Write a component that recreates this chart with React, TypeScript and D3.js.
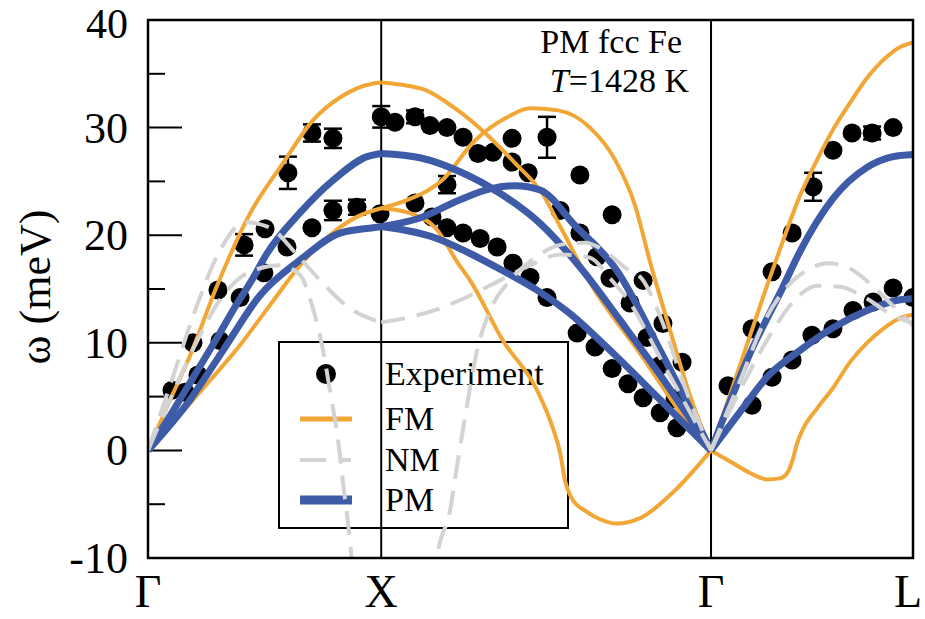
import React from "react";
import * as d3 from "d3";

// High-symmetry path Γ–X–Γ–L (path length in units of 2π/a)
const symPos = [0, 1, 1 + Math.SQRT2, 1 + Math.SQRT2 + Math.sqrt(3) / 2];
const symLabels = ["Γ", "X", "Γ", "L"];
const yMajor = [-10, 0, 10, 20, 30, 40];
const yMinor = [-5, 5, 15, 25, 35];

// ---- FM (orange) ----
const fmGXL = [[0, 0], [0.094, 4.65], [0.18, 8.8], [0.296, 15.3], [0.437, 22.0], [0.579, 26.7], [0.708, 30.7], [0.823, 32.8], [0.965, 34.1], [1.0, 34.2]];
const fmGXT = [[0, 0], [0.137, 3.3], [0.266, 6.5], [0.395, 9.8], [0.523, 13.5], [0.652, 17.2], [0.78, 20.0], [0.896, 21.7], [1.0, 22.5]];
const fmXGL = [[1.0, 34.2], [1.081, 34.0], [1.188, 33.5], [1.316, 31.8], [1.445, 29.5], [1.574, 26.7], [1.69, 23.9], [1.775, 20.5], [1.895, 15.6], [2.11, 9.0], [2.324, 2.3], [2.414, 0]];
const fmXGT1 = [[1.0, 22.5], [1.115, 23.3], [1.261, 25.1], [1.402, 28.8], [1.544, 31.0], [1.638, 31.8], [1.758, 31.6], [1.895, 30.0], [2.003, 27.0], [2.088, 22.8], [2.153, 17.5], [2.238, 11.2], [2.324, 5.1], [2.414, 0]];
const fmXGT2 = [[1.0, 22.5], [1.115, 22.1], [1.239, 20.5], [1.329, 17.4], [1.381, 15.8], [1.522, 10.2], [1.668, 5.6], [1.737, 2.0], [1.767, -0.2], [1.788, -2.8], [1.818, -4.5], [1.874, -5.6], [1.938, -6.4], [2.007, -6.8], [2.11, -6.3], [2.251, -3.9], [2.367, -1.2], [2.414, 0]];
const fmGLL = [[2.414, 0], [2.56, 9.3], [2.654, 15.3], [2.723, 19.5], [2.796, 23.7], [2.869, 27.0], [2.937, 29.8], [3.01, 32.3], [3.083, 34.6], [3.169, 36.6], [3.225, 37.5], [3.28, 37.9]];
const fmGLT = [[2.414, 0], [2.509, -1.2], [2.581, -2.1], [2.654, -2.7], [2.71, -2.6], [2.744, -2.0], [2.766, -0.74], [2.783, 0.65], [2.809, 2.0], [2.869, 3.9], [2.937, 5.8], [3.01, 8.2], [3.083, 10.0], [3.152, 11.3], [3.225, 12.3], [3.28, 12.6]];

// ---- PM (blue) ----
const pmGXL = [[0, 0], [0.1, 3.4], [0.2, 7.0], [0.3, 10.6], [0.364, 13.0], [0.45, 16.0], [0.51, 18.3], [0.652, 22.1], [0.793, 25.1], [0.939, 27.3], [1.0, 27.6]];
const pmGXT = [[0, 0], [0.18, 4.7], [0.322, 9.3], [0.48, 14.4], [0.652, 17.7], [0.823, 20.2], [0.965, 20.7], [1.0, 20.8]];
const pmXGL = [[1.0, 27.6], [1.166, 27.2], [1.338, 25.9], [1.509, 23.9], [1.681, 21.1], [1.865, 16.7], [2.024, 12.1], [2.196, 7.0], [2.414, 0]];
const pmXGT1 = [[1.0, 20.8], [1.166, 21.6], [1.338, 23.3], [1.467, 24.3], [1.574, 24.6], [1.681, 24.2], [1.831, 20.9], [2.011, 16.7], [2.196, 9.3], [2.414, 0]];
const pmXGT2 = [[1.0, 20.8], [1.239, 19.7], [1.381, 18.3], [1.522, 16.7], [1.668, 14.9], [1.81, 12.7], [1.981, 9.3], [2.196, 4.7], [2.414, 0]];
const pmGLL = [[2.414, 0], [2.581, 9.0], [2.723, 15.2], [2.796, 18.5], [2.937, 23.4], [3.083, 26.3], [3.195, 27.3], [3.28, 27.5]];
const pmGLT = [[2.414, 0], [2.55, 3.9], [2.654, 6.8], [2.796, 9.3], [2.937, 11.4], [3.083, 13.0], [3.225, 14.0], [3.28, 14.1]];

// ---- NM (grey dashed) ----
const nmGXL = [[0, 0], [0.094, 6.0], [0.202, 13.0], [0.309, 18.6], [0.416, 21.2], [0.523, 20.7], [0.63, 18.4], [0.738, 15.8], [0.866, 13.2], [1.0, 11.9]];
const nmGXT = [[0, 0], [0.094, 4.7], [0.202, 9.8], [0.309, 14.0], [0.437, 16.6], [0.566, 17.2], [0.652, 16.3], [0.703, 13.5], [0.746, 9.8], [0.78, 5.6], [0.815, 0.9], [0.84, -3.7], [0.866, -8.4], [0.888, -14.0]];
const nmXGa = [[1.0, 11.9], [1.123, 12.4], [1.252, 13.2], [1.381, 14.4], [1.509, 15.8], [1.638, 17.2], [1.767, 18.2], [1.895, 17.9], [1.981, 16.0], [2.067, 13.7], [2.196, 8.6], [2.414, 0]];
const nmXGb = [[1.218, -15.8], [1.239, -10.0], [1.295, -5.6], [1.329, -0.9], [1.368, 4.2], [1.411, 9.3], [1.467, 13.0], [1.552, 15.8], [1.66, 17.9], [1.767, 19.1], [1.874, 19.3], [1.96, 18.5], [2.045, 17.0], [2.123, 15.8], [2.208, 11.8], [2.3, 6.0], [2.414, 0]];
const nmGL1 = [[2.414, 0], [2.539, 6.5], [2.646, 12.1], [2.753, 15.5], [2.839, 16.9], [2.916, 17.4], [3.01, 16.9], [3.096, 15.5], [3.182, 13.7], [3.28, 11.6]];
const nmGL2 = [[2.414, 0], [2.56, 6.5], [2.667, 10.7], [2.774, 14.0], [2.869, 15.3], [2.967, 15.2], [3.075, 14.2], [3.182, 12.7], [3.28, 11.8]];

const fmCurves = [fmGXL, fmGXT, fmXGL, fmXGT1, fmXGT2, fmGLL, fmGLT];
const pmCurves = [pmGXL, pmGXT, pmXGL, pmXGT1, pmXGT2, pmGLL, pmGLT];
const nmCurves = [nmGXL, nmGXT, nmXGa, nmXGb, nmGL1, nmGL2];

// ---- Experiment: [path position, ω (meV), error (meV)] ----
const expGX = [
  [0.103, 5.6, 0], [0.159, 5.4, 0], [0.214, 7.0, 0], [0.193, 10.0, 0], [0.309, 10.2, 0],
  [0.3, 14.9, 0], [0.395, 14.2, 0], [0.497, 16.5, 0], [0.412, 19.1, 1.0], [0.502, 20.6, 0],
  [0.596, 18.9, 0], [0.6, 25.8, 1.5], [0.703, 29.5, 0.8], [0.793, 29.0, 0.9], [0.703, 20.7, 0],
  [0.793, 22.3, 0.9], [0.896, 22.6, 0.7], [0.995, 22.0, 0], [1.0, 31.0, 1.0],
];
const expXG = [
  [1.059, 30.5, 0], [1.145, 31.0, 0.6], [1.209, 30.2, 0], [1.282, 30.0, 0], [1.351, 29.1, 0],
  [1.415, 27.6, 0], [1.479, 27.7, 0], [1.561, 29.0, 0], [1.561, 26.8, 0], [1.63, 25.8, 0],
  [1.711, 29.1, 1.9], [1.282, 24.7, 0.8], [1.145, 23.0, 0], [1.218, 21.7, 0], [1.282, 20.7, 0],
  [1.351, 20.2, 0], [1.424, 19.7, 0], [1.497, 18.9, 0], [1.565, 17.4, 0], [1.638, 16.1, 0],
  [1.711, 14.2, 0], [1.84, 10.9, 0], [1.917, 9.6, 0], [1.99, 7.6, 0], [2.058, 6.2, 0],
  [2.123, 4.9, 0], [2.196, 3.5, 0], [2.268, 2.1, 0], [1.767, 22.3, 0], [1.852, 20.2, 0],
  [1.925, 18.0, 0], [1.981, 16.0, 0], [2.067, 13.7, 0], [2.123, 15.8, 0], [2.14, 10.5, 0],
  [2.208, 11.8, 0], [2.196, 7.9, 0], [2.29, 8.2, 0], [2.26, 4.8, 0], [1.852, 25.6, 0],
  [1.99, 21.9, 0],
];
const expGL = [
  [2.487, 6.0, 0], [2.59, 11.3, 0], [2.676, 16.6, 0], [2.762, 20.2, 0], [2.852, 24.5, 1.3],
  [2.937, 27.9, 0], [3.019, 29.5, 0], [3.105, 29.5, 0.6], [3.195, 30.0, 0], [2.59, 4.2, 0],
  [2.676, 6.8, 0], [2.762, 8.4, 0], [2.847, 10.7, 0], [2.937, 11.3, 0], [3.023, 13.0, 0],
  [3.109, 13.8, 0], [3.195, 15.1, 0], [3.28, 14.2, 0],
];
const expPoints = [...expGX, ...expXG, ...expGL];

const legendLabels = ["Experiment", "FM", "NM", "PM"];

const ORANGE = "#f2a636";
const BLUE = "#3d5ba6";
const GREY = "#d3d3d3";
const FONT = "'Liberation Serif', 'Times New Roman', serif";

export default function App() {
  const W = 925, H = 619;
  const L = 148, R = 913, T = 20, B = 558;
  const x = d3.scaleLinear().domain([0, symPos[3]]).range([L, R]);
  const y = d3.scaleLinear().domain([-10, 40]).range([B, T]);
  const line = d3.line<number[]>().x((d) => x(d[0])).y((d) => y(d[1])).curve(d3.curveMonotoneX);

  const lg = { x0: 279, y0: 342, x1: 568, y1: 528 };
  const rowY = [374, 419, 460, 500];

  return (
    <svg width={W} height={H} viewBox={`0 0 ${W} ${H}`}
      style={{ position: "absolute", left: 0, top: 0, background: "#fff" }}
      fontFamily={FONT}>
      <defs>
        <clipPath id="plot"><rect x={L} y={T} width={R - L} height={B - T} /></clipPath>
      </defs>
      <rect x={0} y={0} width={W} height={H} fill="#fff" />

      {/* y ticks */}
      {yMajor.map((v) => (
        <g key={"M" + v}>
          <line x1={L} x2={L + 34} y1={y(v)} y2={y(v)} stroke="#000" strokeWidth={2} />
          <text x={128} y={y(v) + (v === 40 ? 18 : 15)} textAnchor="end" fontSize={v === 40 ? 42 : 44}>{v}</text>
        </g>
      ))}
      {yMinor.map((v) => (
        <line key={"m" + v} x1={L} x2={L + 17} y1={y(v)} y2={y(v)} stroke="#000" strokeWidth={2} />
      ))}

      {/* symmetry lines */}
      {symPos.slice(1, 3).map((p, i) => (
        <line key={"s" + i} x1={x(p)} x2={x(p)} y1={T} y2={B} stroke="#000" strokeWidth={2} />
      ))}

      {/* x labels */}
      {symPos.map((p, i) => (
        <text key={"xl" + i} x={i === 3 ? x(p) - 5 : x(p)} y={607} textAnchor="middle" fontSize={46}>{symLabels[i]}</text>
      ))}

      {/* y axis label */}
      <text transform="translate(50,287) rotate(-90)" textAnchor="middle" fontSize={44}>ω (meV)</text>

      {/* annotation */}
      <text x={682} y={53} textAnchor="end" fontSize={34}>PM fcc Fe</text>
      <text x={689} y={92} textAnchor="end" fontSize={34}>
        <tspan fontStyle="italic">T</tspan>=1428 K
      </text>

      {/* legend */}
      <rect x={lg.x0} y={lg.y0} width={lg.x1 - lg.x0} height={lg.y1 - lg.y0} fill="none" stroke="#000" strokeWidth={2} />
      <circle cx={326} cy={rowY[0]} r={10} fill="#000" />
      <line x1={300} x2={352} y1={rowY[1]} y2={rowY[1]} stroke={ORANGE} strokeWidth={5} />
      <line x1={300} x2={352} y1={rowY[2]} y2={rowY[2]} stroke={GREY} strokeWidth={4} strokeDasharray="26 15 10 60" />
      <line x1={300} x2={352} y1={rowY[3]} y2={rowY[3]} stroke={BLUE} strokeWidth={9} />
      {legendLabels.map((t, i) => (
        <text key={t} x={385} y={rowY[i] + 11} fontSize={34}>{t}</text>
      ))}

      <g clipPath="url(#plot)">
        {/* experimental points */}
        {expPoints.map((p, i) => (
          <g key={"e" + i}>
            {p[2] > 0 && (
              <g stroke="#000" strokeWidth={2.5}>
                <line x1={x(p[0])} x2={x(p[0])} y1={y(p[1] - p[2])} y2={y(p[1] + p[2])} />
                <line x1={x(p[0]) - 9} x2={x(p[0]) + 9} y1={y(p[1] - p[2])} y2={y(p[1] - p[2])} />
                <line x1={x(p[0]) - 9} x2={x(p[0]) + 9} y1={y(p[1] + p[2])} y2={y(p[1] + p[2])} />
              </g>
            )}
            <circle cx={x(p[0])} cy={y(p[1])} r={9.5} fill="#000" />
          </g>
        ))}
        {fmCurves.map((c, i) => (
          <path key={"fm" + i} d={line(c) || ""} fill="none" stroke={ORANGE} strokeWidth={4} />
        ))}
        {pmCurves.map((c, i) => (
          <path key={"pm" + i} d={line(c) || ""} fill="none" stroke={BLUE} strokeWidth={7} />
        ))}
        {nmCurves.map((c, i) => (
          <path key={"nm" + i} d={line(c) || ""} fill="none" stroke={GREY} strokeWidth={4} strokeDasharray="24 12" />
        ))}
      </g>

      {/* frame */}
      <rect x={L} y={T} width={R - L} height={B - T} fill="none" stroke="#000" strokeWidth={2.5} />
    </svg>
  );
}
